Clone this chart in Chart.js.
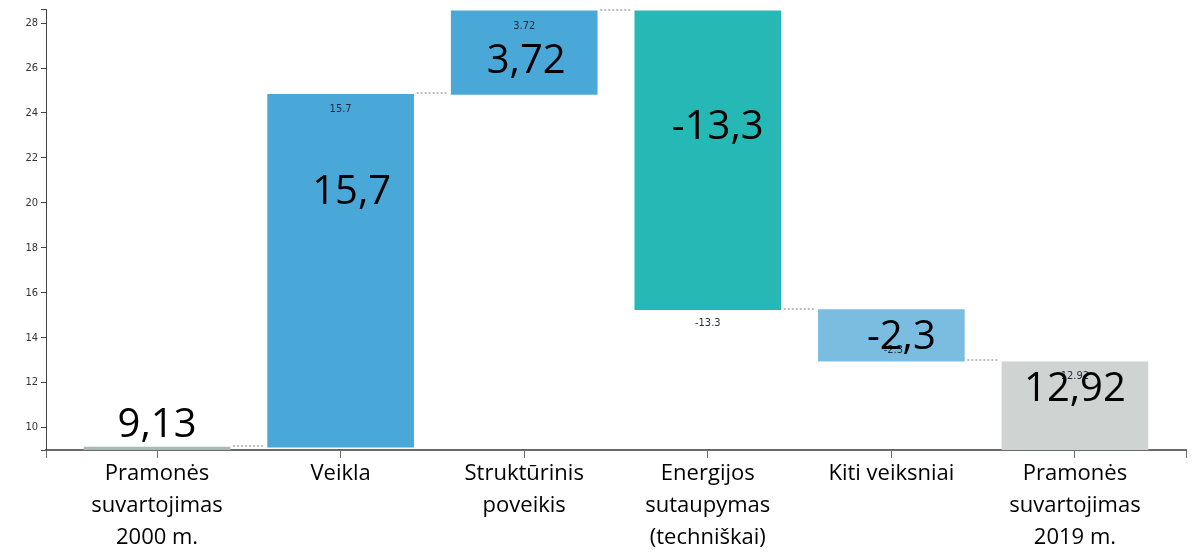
<!DOCTYPE html>
<html>
<head>
<meta charset="utf-8">
<script src="https://cdn.jsdelivr.net/npm/chart.js@4.4.0/dist/chart.umd.min.js"></script>
<style>
    html, body { margin: 0; padding: 0; background: #fff; }
    #wrap { position: relative; width: 1194px; height: 553px; }
</style>
</head>
<body>
<div id="wrap"><canvas id="chart" width="1194" height="553"></canvas></div>
<script>
// categories (multi-line labels)
const categories = [
    ['Pramonės', 'suvartojimas', '2000 m.'],
    ['Veikla'],
    ['Struktūrinis', 'poveikis'],
    ['Energijos', 'sutaupymas', '(techniškai)'],
    ['Kiti veiksniai'],
    ['Pramonės', 'suvartojimas', '2019 m.']
];
const changes = [9.13, 15.7, 3.72, -13.3, -2.3, 12.92];
const isTotal = [true, false, false, false, false, true];
const bigLabels = ['9,13', '15,7', '3,72', '-13,3', '-2,3', '12,92'];
const smallLabels = ['', '15.7', '3.72', '-13.3', '-2.3', '12.92'];
const yTicks = [10, 12, 14, 16, 18, 20, 22, 24, 26, 28];
const barColors = ['#a9bab5', '#4aa8d8', '#4aa8d8', '#26b8b4', '#7bbde0', '#cfd3d2'];

// build floating bars + running levels
const levels = [];
const barData = [];
let running = 0;
changes.forEach((v, i) => {
    if (isTotal[i]) {
        running = v;
        barData.push({ x: i, y: [0, v] });
    } else {
        barData.push({ x: i, y: [running, running + v] });
        running += v;
    }
    levels.push(running);
});

const Y_MIN = 9.0, Y_MAX = 28.6;
const X_MIN = -0.605, X_MAX = 5.605;

// label placement per bar (pixel offsets, style only)
const bigOffsets = [[0, -21], [11, 98], [2, 51], [10, 117], [10, 28], [0, 28]];
const smallOffsets = [null, [0, 15, 'top'], [0, 15, 'top'], [0, 14, 'bottom'], [2, -11, 'bottom'], [0, 14, 'top']];

const waterfallExtras = {
    id: 'waterfallExtras',
    afterDatasetsDraw(chart) {
        const ctx = chart.ctx;
        const meta = chart.getDatasetMeta(0);
        const yScale = chart.scales.y;

        // dotted connectors
        ctx.save();
        ctx.strokeStyle = '#bdbdbd';
        ctx.lineWidth = 2;
        ctx.setLineDash([2, 2]);
        for (let i = 0; i < meta.data.length - 1; i++) {
            const a = meta.data[i], b = meta.data[i + 1];
            const ly = Math.round(yScale.getPixelForValue(levels[i])) - 1;
            ctx.beginPath();
            ctx.moveTo(a.x + a.width / 2 + 3, ly);
            ctx.lineTo(b.x - b.width / 2 - 3, ly);
            ctx.stroke();
        }
        ctx.restore();

        ctx.save();
        ctx.textAlign = 'center';
        ctx.textBaseline = 'middle';
        // small labels
        ctx.font = '11px "Liberation Sans Narrow", "DejaVu Sans Condensed", sans-serif';
        ctx.fillStyle = '#1f2a3a';
        meta.data.forEach((bar, i) => {
            const off = smallOffsets[i];
            if (!off || !smallLabels[i]) return;
            const top = Math.min(bar.y, bar.base);
            const bottom = Math.max(bar.y, bar.base);
            const ref = off[2] === 'top' ? top : bottom;
            ctx.fillText(smallLabels[i], bar.x + off[0], ref + off[1]);
        });
        // big labels
        ctx.font = '40px "Open Sans", "Noto Sans", sans-serif';
        ctx.fillStyle = '#000';
        meta.data.forEach((bar, i) => {
            const off = bigOffsets[i];
            const top = Math.min(bar.y, bar.base);
            ctx.fillText(bigLabels[i], bar.x + off[0], top + off[1]);
        });
        ctx.restore();
    }
};

new Chart(document.getElementById('chart').getContext('2d'), {
    type: 'bar',
    data: {
        datasets: [{
            data: barData,
            backgroundColor: barColors,
            borderWidth: 0,
            barThickness: 146
        }]
    },
    options: {
        responsive: false,
        animation: false,
        devicePixelRatio: 1,
        layout: { padding: { top: 6, right: 8, left: 0, bottom: 0 } },
        plugins: {
            legend: { display: false },
            tooltip: { enabled: false }
        },
        scales: {
            x: {
                type: 'linear',
                offset: false,
                min: X_MIN,
                max: X_MAX,
                afterBuildTicks: scale => {
                    scale.ticks = [X_MIN, 0, 1, 2, 3, 4, 5, X_MAX].map(v => ({ value: v }));
                },
                afterFit: scale => { scale.height = 103; },
                border: { color: '#6a6a6a', width: 2 },
                grid: { offset: false, drawOnChartArea: false, drawTicks: true, tickLength: 8, color: '#6a6a6a', lineWidth: 1 },
                ticks: {
                    autoSkip: false,
                    maxRotation: 0,
                    padding: 0,
                    color: '#000',
                    font: { family: '"Open Sans", "Noto Sans", sans-serif', size: 22, lineHeight: 1.45 },
                    callback: value => Number.isInteger(value) && value >= 0 && value < categories.length ? categories[value] : ''
                }
            },
            y: {
                min: Y_MIN,
                max: Y_MAX,
                afterBuildTicks: scale => {
                    scale.ticks = [Y_MIN].concat(yTicks, [Y_MAX]).map(v => ({ value: v }));
                },
                afterFit: scale => { scale.width = 46; },
                border: { color: '#444', width: 1 },
                grid: { drawOnChartArea: false, drawTicks: true, tickLength: 5, color: '#444', lineWidth: 1 },
                ticks: {
                    padding: 3,
                    color: '#333',
                    font: { family: '"Liberation Sans Narrow", "DejaVu Sans Condensed", sans-serif', size: 11 },
                    callback: value => yTicks.includes(value) ? String(value) : ''
                }
            }
        }
    },
    plugins: [waterfallExtras]
});
</script>
</body>
</html>
